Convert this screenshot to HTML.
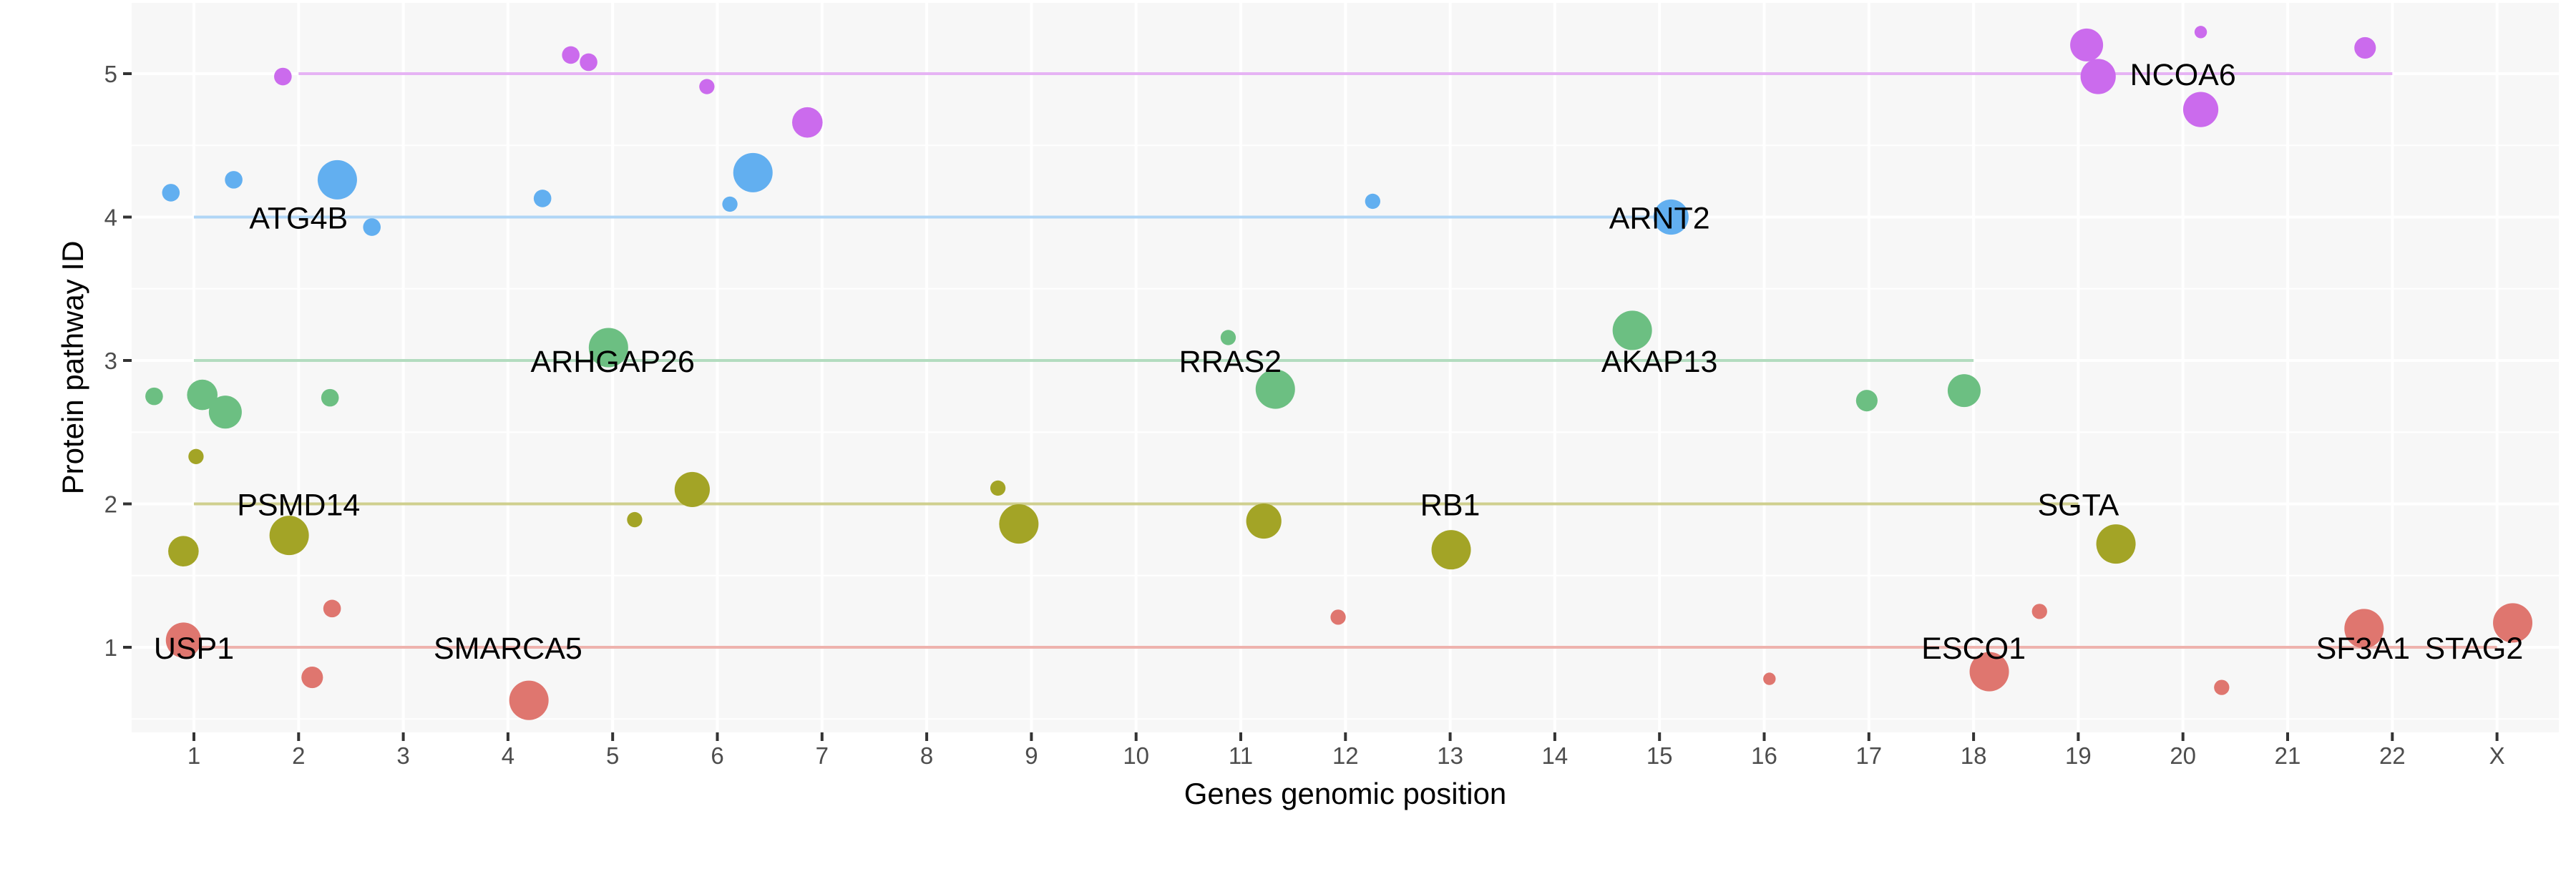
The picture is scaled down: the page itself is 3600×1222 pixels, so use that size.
<!DOCTYPE html>
<html><head><meta charset="utf-8"><style>
html,body{margin:0;padding:0;background:#fff;}
svg{display:block;font-family:"Liberation Sans",Arial,sans-serif;}
</style></head><body>
<svg id="chart" width="3600" height="1222" viewBox="0 0 3600 1222" xmlns="http://www.w3.org/2000/svg">
<rect x="184" y="4" width="3392" height="1020" fill="#f7f7f7"/>
<g id="grid"></g><g id="lines"></g><g id="pts"></g><g id="labs"></g><g id="axes"></g>
<text x="1880" y="1124" font-size="42" text-anchor="middle" fill="#000">Genes genomic position</text>
<text transform="translate(116,514) rotate(-90)" font-size="42" text-anchor="middle" fill="#000">Protein pathway ID</text>
</svg>
<script>
const xTickLabels=["1","2","3","4","5","6","7","8","9","10","11","12","13","14","15","16","17","18","19","20","21","22","X"];
const yTickLabels=["1","2","3","4","5"];
const pathways=[1,2,3,4,5];
const pathColors=["#df766f","#a3a426","#6cbf82","#62aff0","#cb6bed"];
const lineColors=["#eeb3ae","#cfcf8e","#b3dcbf","#b0d6f6","#e6b3f4"];
const lineStart=[1,1,1,1,2];
const lineEnd=[23,19,18,15,22];
const ptPathway=[5,5,5,5,5,5,5,5,5,5, 4,4,4,4,4,4,4,4,4, 3,3,3,3,3,3,3,3,3,3, 2,2,2,2,2,2,2,2,2,2, 1,1,1,1,1,1,1,1,1,1,1];
const ptX=[1.85,4.6,4.77,5.9,6.86,19.08,19.19,20.17,20.17,21.74, 0.78,1.38,2.37,2.7,4.33,6.12,6.34,12.26,15.11, 0.62,1.08,1.3,2.3,4.96,10.88,11.33,14.74,16.98,17.91, 1.02,0.9,1.91,5.21,5.76,8.68,8.88,11.22,13.01,19.36, 0.9,2.32,2.13,4.2,11.93,16.05,18.15,18.63,20.37,21.73,23.15];
const ptY=[4.98,5.13,5.08,4.91,4.66,5.2,4.98,4.75,5.29,5.18, 4.17,4.26,4.26,3.93,4.13,4.09,4.31,4.11,4.0, 2.75,2.76,2.64,2.74,3.09,3.16,2.8,3.21,2.72,2.79, 2.33,1.67,1.78,1.89,2.1,2.11,1.86,1.88,1.68,1.72, 1.05,1.27,0.79,0.63,1.21,0.78,0.83,1.25,0.72,1.13,1.17];
const ptSize=[2,2,2,1.5,6,7,8,8,1,3, 2,2,10,2,2,1.5,10,1.5,8, 2,6,7,2,10,1.5,10,10,3,7, 1.5,6,10,1.5,8,1.5,10,8,10,10, 8,2,3,10,1.5,1,10,1.5,1.5,10,10];
const labelText=["USP1","SMARCA5","ESCO1","SF3A1","STAG2","PSMD14","RB1","SGTA","ARHGAP26","RRAS2","AKAP13","ATG4B","ARNT2","NCOA6"];
const labelX=[1,4,18,21.72,22.78,2,13,19,5,10.9,15,2,15,20];
const labelY=[1,1,1,1,1,2,2,2,3,3,3,4,4,5];

const NS="http://www.w3.org/2000/svg";
const xs=v=>271+(v-1)*146.3;
const ys=v=>905-(v-1)*200.5;
function mk(tag,attrs,parent){const e=document.createElementNS(NS,tag);for(const k in attrs)e.setAttribute(k,attrs[k]);parent.appendChild(e);return e;}
const grid=document.getElementById('grid'),lines=document.getElementById('lines'),pts=document.getElementById('pts'),labs=document.getElementById('labs'),axes=document.getElementById('axes');
for(let v=0.5;v<=5.5;v+=1){const l=mk('line',{x1:184,x2:3576,y1:ys(v),y2:ys(v),stroke:'#fff','stroke-width':2},grid);

}
yTickLabels.forEach((t,i)=>{const v=i+1;const l=mk('line',{x1:184,x2:3576,y1:ys(v),y2:ys(v),stroke:'#fff','stroke-width':4},grid);


const tk=mk('line',{x1:172,x2:184,y1:ys(v),y2:ys(v),stroke:'#333','stroke-width':4},axes);


const tx=mk('text',{x:164,y:ys(v)+12,'font-size':33,'text-anchor':'end',fill:'#4d4d4d'},axes);tx.textContent=t;

});
xTickLabels.forEach((t,i)=>{const v=i+1;const l=mk('line',{x1:xs(v),x2:xs(v),y1:4,y2:1024,stroke:'#fff','stroke-width':4},grid);


const tk=mk('line',{x1:xs(v),x2:xs(v),y1:1024,y2:1036,stroke:'#333','stroke-width':4},axes);


const tx=mk('text',{x:xs(v),y:1068,'font-size':33,'text-anchor':'middle',fill:'#4d4d4d'},axes);tx.textContent=t;

});
pathways.forEach((p,i)=>{const l=mk('line',{x1:xs(lineStart[i]),x2:xs(lineEnd[i]),y1:ys(p),y2:ys(p),stroke:lineColors[i],'stroke-width':4},lines);

});
ptX.forEach((x,i)=>{const p=ptPathway[i];const c=mk('circle',{cx:xs(x),cy:ys(ptY[i]),r:8.7*Math.sqrt(ptSize[i]),fill:pathColors[p-1]},pts);

});
labelText.forEach((t,i)=>{const tx=mk('text',{x:xs(labelX[i]),y:ys(labelY[i])+16,'font-size':43,'text-anchor':'middle',fill:'#000'},labs);tx.textContent=t;

});
</script>
</body></html>
